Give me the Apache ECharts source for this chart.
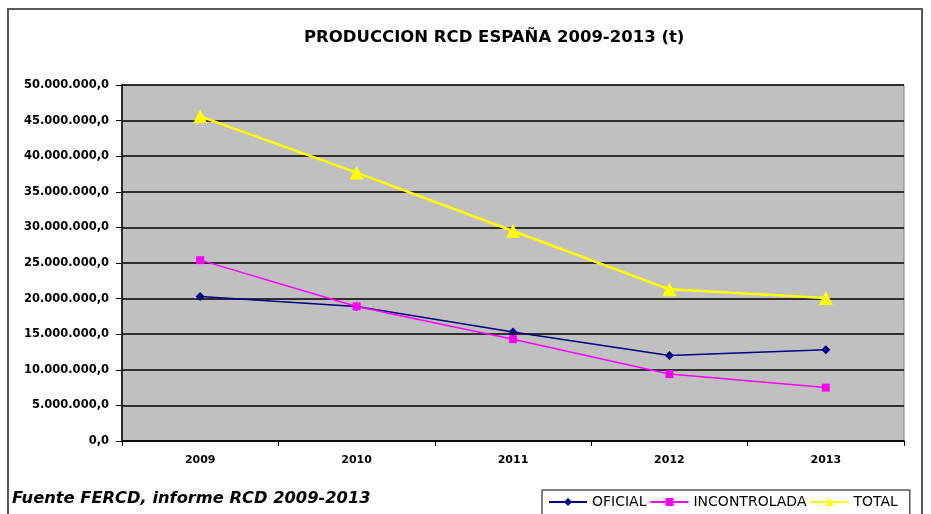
<!DOCTYPE html>
<html>
<head>
<meta charset="utf-8">
<script src="https://cdn.jsdelivr.net/npm/echarts@6/dist/echarts.min.js"></script>
<style>
  html, body { margin: 0; padding: 0; background: #fff; }
  #chart { width: 931px; height: 514px; }
</style>
</head>
<body>
<div id="chart"></div>
<script>
// datos (toneladas)
const years = ['2009', '2010', '2011', '2012', '2013']
const oficial = [20300000, 18900000, 15300000, 12000000, 12800000]
const incontrolada = [25400000, 18900000, 14300000, 9400000, 7500000]
const total = [45600000, 37700000, 29500000, 21300000, 20100000]

const fmt = (v) => {
  const parts = v.toFixed(1).split('.')
  return parts[0].replace(/\B(?=(\d{3})+(?!\d))/g, '.') + ',' + parts[1]
}

const chart = echarts.init(document.getElementById('chart'))
const font = 'DejaVu Sans, Arial, sans-serif'

chart.setOption({
  animation: false,
  backgroundColor: '#fff',
  title: {
    text: 'PRODUCCION RCD ESPAÑA 2009-2013 (t)',
    left: 299,
    top: 24,
    textStyle: { fontFamily: font, fontWeight: 'bold', fontSize: 16.5, color: '#000' }
  },
  graphic: [
    {
      type: 'rect',
      shape: { x: 8, y: 9, width: 914, height: 530 },
      style: { fill: 'none', stroke: '#5a5a5a', lineWidth: 2 },
      z: -1
    },
    {
      type: 'text',
      left: 12,
      top: 491,
      style: {
        text: 'Fuente FERCD, informe RCD 2009-2013',
        font: 'italic bold 16.3px DejaVu Sans, Arial, sans-serif',
        fill: '#000'
      }
    }
  ],
  legend: {
    left: 542,
    top: 490,
    itemWidth: 38,
    itemHeight: 10,
    itemGap: 3,
    padding: [5, 12, 8, 6],
    borderColor: '#000',
    borderWidth: 1,
    textStyle: { fontFamily: font, fontSize: 14, color: '#000' },
    data: ['OFICIAL', 'INCONTROLADA', 'TOTAL']
  },
  grid: {
    left: 122,
    right: 27,
    top: 85,
    bottom: 73,
    show: true,
    backgroundColor: '#c0c0c0',
    borderColor: '#808080',
    borderWidth: 1
  },
  xAxis: {
    type: 'category',
    data: years,
    boundaryGap: true,
    axisLine: { lineStyle: { color: '#000', width: 1.5 } },
    axisTick: { show: true, length: 5, lineStyle: { color: '#000' } },
    axisLabel: { fontFamily: font, fontSize: 11, fontWeight: 'bold', color: '#000', margin: 14 }
  },
  yAxis: {
    type: 'value',
    min: 0,
    max: 50000000,
    interval: 5000000,
    axisLine: { show: true, lineStyle: { color: '#000', width: 1.5 } },
    axisTick: { show: true, length: 6, lineStyle: { color: '#000' } },
    splitLine: { lineStyle: { color: '#000', width: 1.5 } },
    axisLabel: { fontFamily: font, fontSize: 11.5, fontWeight: 'bold', color: '#000', margin: 13, formatter: fmt }
  },
  series: [
    {
      name: 'OFICIAL',
      type: 'line',
      data: oficial,
      symbol: 'diamond',
      symbolSize: 9,
      color: '#000080',
      lineStyle: { width: 1.5, color: '#000080' },
      itemStyle: { color: '#000080' }
    },
    {
      name: 'INCONTROLADA',
      type: 'line',
      data: incontrolada,
      symbol: 'rect',
      symbolSize: 8,
      color: '#ff00ff',
      lineStyle: { width: 1.5, color: '#ff00ff' },
      itemStyle: { color: '#ff00ff' }
    },
    {
      name: 'TOTAL',
      type: 'line',
      data: total,
      symbol: 'triangle',
      symbolSize: 14,
      color: '#ffff00',
      lineStyle: { width: 2.5, color: '#ffff00' },
      itemStyle: { color: '#ffff00' }
    }
  ]
})
</script>
</body>
</html>
